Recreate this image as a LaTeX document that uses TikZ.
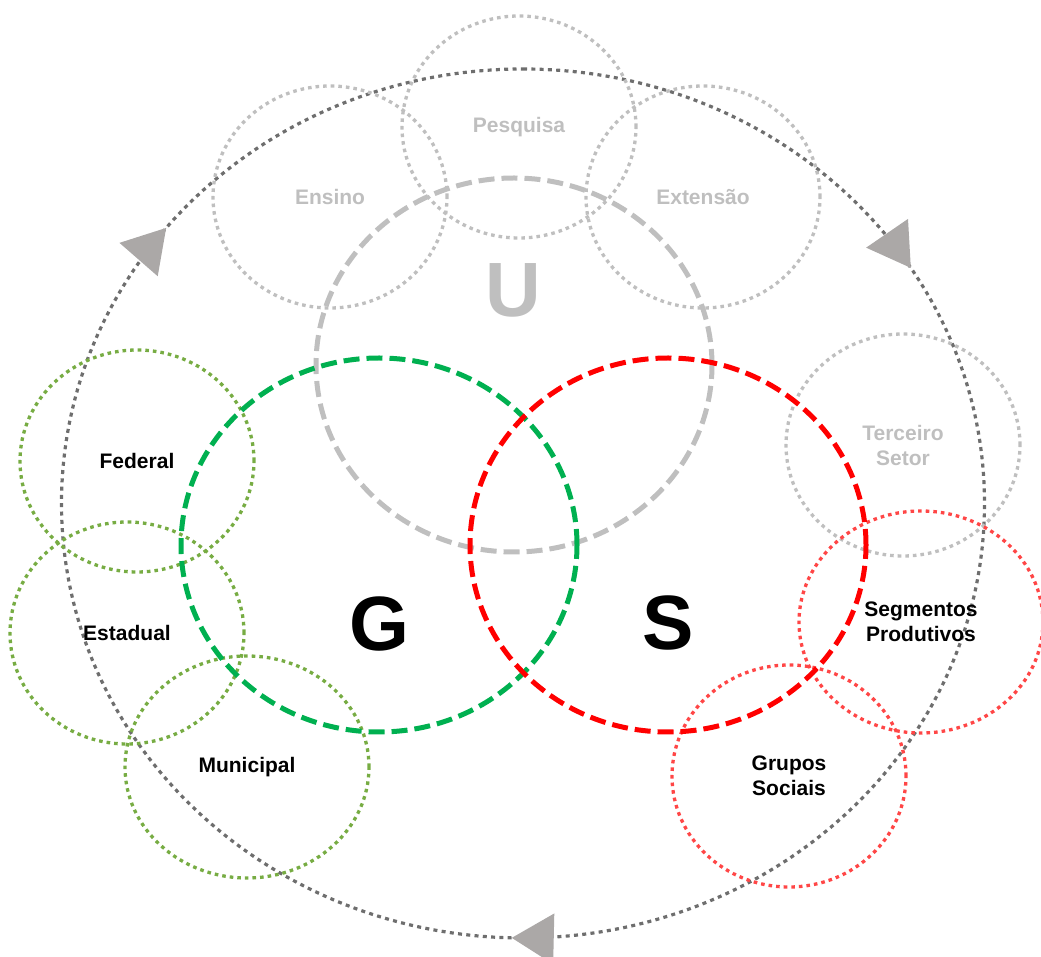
\documentclass[tikz,border=0pt]{standalone}
\usepackage{fontspec}
\setmainfont{Liberation Sans}
\usetikzlibrary{shapes.geometric,decorations.markings,arrows.meta}
\definecolor{ugray}{HTML}{BFBFBF}
\definecolor{ringgray}{HTML}{6E6E6E}
\definecolor{tipgray}{HTML}{ABA8A7}
\definecolor{gdash}{HTML}{00B050}
\definecolor{gdot}{HTML}{77AC43}
\definecolor{sdash}{HTML}{FF0000}
\definecolor{sdot}{HTML}{FF4646}
\tikzset{
  bigring/.style={ellipse,draw,line width=5pt,dash pattern=on 16pt off 7pt,
    minimum width=396pt,minimum height=374pt},
  smallring/.style={ellipse,draw,line width=3.3pt,dash pattern=on 3.6pt off 4pt,
    minimum width=234pt,minimum height=222pt,align=center,
    font=\fontsize{21}{25}\selectfont\bfseries},
  bigletter/.style={font=\fontsize{77}{77}\selectfont\bfseries},
  cycletip/.style={tipgray},
}

\begin{document}
\begin{tikzpicture}[x=1pt,y=1pt]
    \useasboundingbox (0,0) rectangle (1041,956);
    % outer cycle
    \draw[ringgray,line width=3.2pt,dash pattern=on 4pt off 4.3pt,
        decoration={markings,
            mark=at position 0.161 with {\arrow[cycletip]{Triangle[length=42pt,width=50pt]}},
            mark=at position 0.504 with {\arrow[cycletip]{Triangle[length=42pt,width=50pt]}},
            mark=at position 0.857 with {\arrow[cycletip]{Triangle[length=42pt,width=50pt]}}},
        postaction={decorate}]
        (523,887) arc[start angle=90,end angle=-270,x radius=461.5,y radius=434.5];

    \node[smallring,ugray] (ensino) at (330,759) {Ensino};
    \node[smallring,ugray] (pesquisa) at (519,829) {Pesquisa};
    \node[smallring,ugray] (extensao) at (703,759) {Extensão};
    \node[smallring,ugray] (terceiro) at (903,511) {Terceiro\\Setor};
    \node[smallring,gdot,text=black] (federal) at (137,495) {Federal};
    \node[smallring,gdot,text=black] (estadual) at (127,323) {Estadual};
    \node[smallring,gdot,text=black,minimum width=244pt] (municipal) at (247,189) {Municipal};
    \node[smallring,sdot,text=black,minimum width=244pt] (segmentos) at (921,334) {Segmentos\\Produtivos};
    \node[smallring,sdot,text=black] (grupos) at (789,180) {Grupos\\Sociais};

    \node[bigring,ugray] (univ) at (514,591) {};
    \node[bigring,gdash] (gov) at (379,411) {};
    \node[bigring,sdash] (soc) at (668,411) {};
    \node[bigletter,ugray] (uletter) at (513,666) {U};
    \node[bigletter] (gletter) at (379,332) {G};
    \node[bigletter] (sletter) at (668,333) {S};
\end{tikzpicture}
\end{document}
